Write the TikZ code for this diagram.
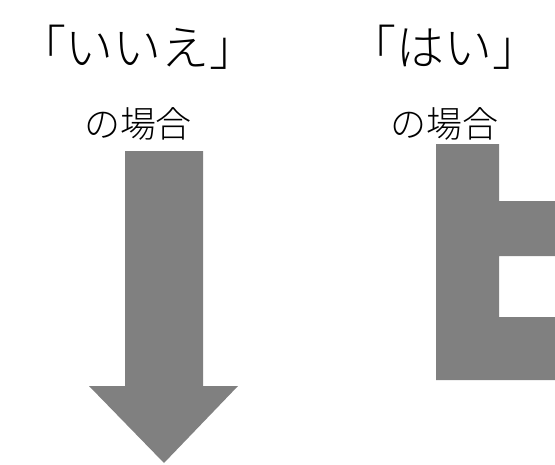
\documentclass[tikz,border=0pt]{standalone}
\usepackage{fontspec}
\newfontfamily\jpfont{Noto Sans CJK JP Light}
\usepackage{tikz}
\usetikzlibrary{positioning}
\tikzset{x=1pt, y=1pt,
    node distance=77pt,
    titletext/.style={font=\jpfont\fontsize{48}{48}\selectfont, inner sep=0pt},
    casetext/.style={font=\jpfont\fontsize{36}{36}\selectfont, inner sep=0pt},
    block/.style={fill=gray, draw=none}}

\begin{document}
\begin{tikzpicture}
\useasboundingbox (0,0) rectangle (555,-464);

\node[titletext] (noTitle)  at (138,-47)          {「いいえ」};
\node[casetext]  (noCase)   [below of = noTitle]  {の場合};
\node[titletext] (yesTitle) at (444,-47)          {「はい」};
\node[casetext]  (yesCase)  [below of = yesTitle] {の場合};

% down arrow
\fill[block] (125,-151) -- (203,-151) -- (203,-386) -- (238,-386)
    -- (164,-463) -- (89,-386) -- (125,-386) -- cycle;

% loop back
\fill[block] (436,-144) -- (499,-144) -- (499,-201) -- (555,-201)
    -- (555,-256) -- (499,-256) -- (499,-317) -- (555,-317)
    -- (555,-380) -- (436,-380) -- cycle;
\end{tikzpicture}
\end{document}
